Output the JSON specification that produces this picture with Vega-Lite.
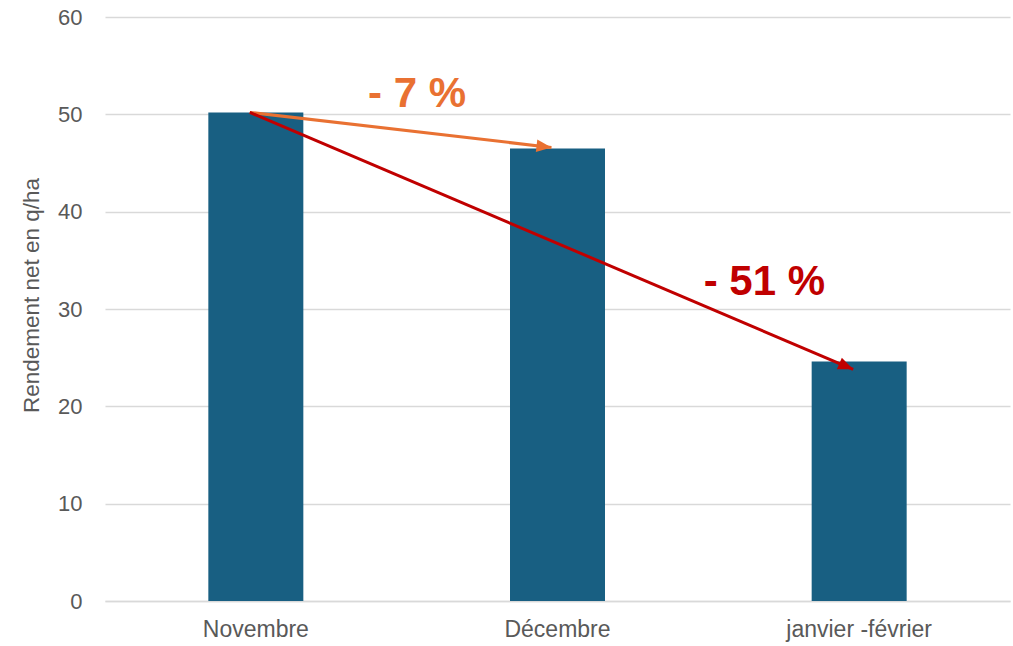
{
  "$schema": "https://vega.github.io/schema/vega-lite/v6.json",
  "width": 905,
  "height": 584,
  "autosize": {"type": "none"},
  "padding": {"left": 105, "top": 17, "right": 3, "bottom": 45},
  "background": "white",
  "config": {
    "view": {"stroke": null},
    "font": "Liberation Sans",
    "axisX": {
      "labelAngle": 0, "labelFontSize": 23, "labelColor": "#595959",
      "labelPadding": 17, "ticks": false, "domainColor": "#d9d9d9", "domainWidth": 1.5,
      "grid": false, "title": null
    },
    "axisY": {
      "titleFontSize": 22.5, "titleFontWeight": "normal",
      "titleColor": "#595959", "titlePadding": 14, "titleY": 278,
      "labelFontSize": 22, "labelColor": "#595959", "labelPadding": 23,
      "labelOverlap": false,
      "ticks": false, "domain": false, "gridColor": "#d9d9d9", "gridWidth": 1.5
    }
  },
  "layer": [
    {
      "data": {"values": [
        {"mois": "Novembre", "rendement": 50.2},
        {"mois": "Décembre", "rendement": 46.5},
        {"mois": "janvier -février", "rendement": 24.6}
      ]},
      "mark": {"type": "bar", "color": "#185F82", "width": 95},
      "encoding": {
        "x": {
          "field": "mois", "type": "nominal", "sort": ["Novembre", "Décembre", "janvier -février"],
          "scale": {"paddingInner": 0, "paddingOuter": 0},
          "axis": {"title": null}
        },
        "y": {
          "field": "rendement", "type": "quantitative",
          "scale": {"domain": [0, 60]},
          "axis": {"title": "Rendement net en q/ha", "values": [0, 10, 20, 30, 40, 50, 60]}
        }
      }
    },
    {
      "data": {"values": [
        {"fleche": "orange", "mois": "Novembre", "valeur": 50.2},
        {"fleche": "orange", "mois": "Décembre", "valeur": 46.6},
        {"fleche": "rouge", "mois": "Novembre", "valeur": 50.2},
        {"fleche": "rouge", "mois": "janvier -février", "valeur": 23.8}
      ]},
      "mark": {"type": "line", "strokeWidth": 3},
      "encoding": {
        "x": {"field": "mois", "type": "nominal", "sort": ["Novembre", "Décembre", "janvier -février"], "bandPosition": 0.48},
        "y": {"field": "valeur", "type": "quantitative"},
        "detail": {"field": "fleche"},
        "color": {"field": "fleche", "type": "nominal", "scale": {"domain": ["orange", "rouge"], "range": ["#E97132", "#C00000"]}, "legend": null}
      }
    },
    {
      "data": {"values": [
        {"fleche": "orange", "mois": "Décembre", "valeur": 46.6, "angle": 96.7},
        {"fleche": "rouge", "mois": "janvier -février", "valeur": 23.8, "angle": 113.2}
      ]},
      "mark": {"type": "point", "shape": "M0,0L-0.42,1L0.42,1Z", "filled": true, "opacity": 1, "size": 900},
      "encoding": {
        "x": {"field": "mois", "type": "nominal", "sort": ["Novembre", "Décembre", "janvier -février"], "bandPosition": 0.48},
        "y": {"field": "valeur", "type": "quantitative"},
        "angle": {"field": "angle", "type": "quantitative", "scale": null},
        "color": {"field": "fleche", "type": "nominal", "scale": {"domain": ["orange", "rouge"], "range": ["#E97132", "#C00000"]}, "legend": null}
      }
    },
    {
      "data": {"values": [
        {"fleche": "orange", "mois": "Novembre", "valeur": 50.75, "texte": "- 7 %", "decalage": 312},
        {"fleche": "rouge", "mois": "janvier -février", "valeur": 31.45, "texte": "- 51 %", "decalage": 56}
      ]},
      "mark": {"type": "text", "fontSize": 42, "fontWeight": "bold", "baseline": "alphabetic", "align": "center"},
      "encoding": {
        "x": {"field": "mois", "type": "nominal", "sort": ["Novembre", "Décembre", "janvier -février"]},
        "y": {"field": "valeur", "type": "quantitative"},
        "xOffset": {"field": "decalage", "type": "quantitative", "scale": null},
        "text": {"field": "texte"},
        "color": {"field": "fleche", "type": "nominal", "scale": {"domain": ["orange", "rouge"], "range": ["#E97132", "#C00000"]}, "legend": null}
      }
    }
  ]
}
